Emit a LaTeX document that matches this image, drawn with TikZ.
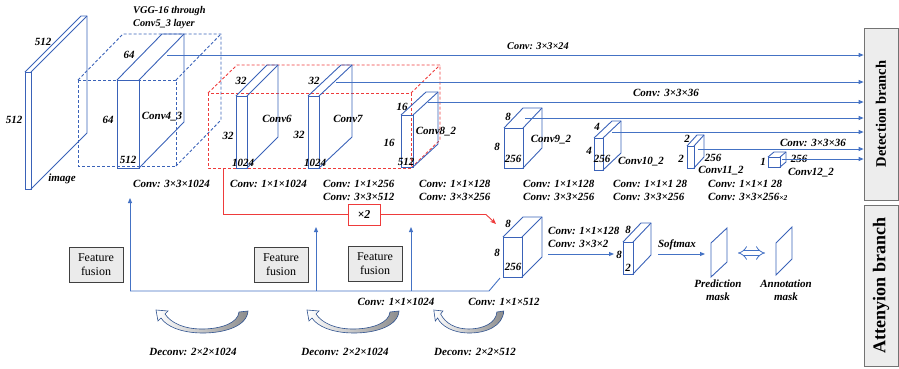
\documentclass[tikz,border=0pt]{standalone}
\usepackage{fontspec}
\setmainfont{Liberation Serif}
\usetikzlibrary{arrows.meta}
\definecolor{netblue}{HTML}{4472C4}
\definecolor{cubeblue}{HTML}{3A62B8}
\definecolor{grpred}{HTML}{EE3B3B}
\definecolor{outlineblue}{HTML}{2F528F}

% cuboid: name, x, y (front top-left), width, height, depth dx, depth dy
\newcommand\cuboid[8][]{%
  \draw[cube,#1] (#3,#4) rectangle ++(#5,#6);
  \draw[cube,#1] (#3,#4) -- ++(#7,-#8) -- ++(#5,0) -- ++(0,#6) -- ++(-#7,#8);
  \draw[cube,#1] (#3+#5,#4) -- ++(#7,-#8);
  \coordinate (#2) at (#3,#4);}

\begin{document}
\begin{tikzpicture}[x=1pt,y=-1pt,
  cube/.style={draw=cubeblue, line width=0.9pt},
  vggdash/.style={draw=cubeblue, dashed, dash pattern=on 3pt off 2pt},
  reddash/.style={draw=grpred, dashed, dash pattern=on 3pt off 2pt},
  lbl/.style={font=\bfseries\itshape\fontsize{11}{13}\selectfont, inner sep=0pt},
  lblleft/.style={lbl, align=left, anchor=west},
  feed/.style={draw=netblue, line width=0.9pt, -{Triangle[length=5pt,width=4pt]}},
  link/.style={draw=netblue, line width=0.9pt},
  fusion/.style={draw=black!75, fill=black!8, line width=0.8pt, minimum width=54pt,
    minimum height=35pt, align=center, inner sep=1pt, font=\fontsize{12}{14}\selectfont},
  branchbox/.style={draw=black!55, fill=black!7, line width=0.7pt, minimum width=34pt,
    inner sep=0pt},
  bend arrow/.pic={
    \draw[outlineblue, line width=0.6pt, left color=white, right color=black!45]
      (47,-1) .. controls (46,14) and (24,21) .. (2,21)
      .. controls (-20,21) and (-35,14) .. (-40,6)
      -- (-43,9) -- (-45,-2) -- (-33,-1) -- (-36,2)
      .. controls (-30,11) and (-17,17) .. (1,17)
      .. controls (20,17) and (37,11) .. (38,0) -- cycle;
  }]
\useasboundingbox (0,0) rectangle (899,368);

% ---------------- branch boxes ----------------
\node[branchbox, minimum height=172pt, font=\bfseries\fontsize{14.5}{16}\selectfont] (det) at (881,114) {\rotatebox{90}{Detection branch}};
\node[branchbox, minimum height=161pt, font=\bfseries\fontsize{18}{20}\selectfont] (att) at (881,285.5) {\rotatebox{90}{Attenyion branch}};

% ---------------- input image ----------------
\cuboid{img}{25}{72}{6}{117}{56}{56}
\node[lbl] at (43,42) {512};
\node[lbl] at (14,120) {512};
\node[lbl] at (62,179) {image};

% ---------------- VGG-16 block ----------------
\cuboid[vggdash]{vgg}{78}{80}{98}{86}{45}{46}
\cuboid{c43}{117}{80}{22}{88}{45}{46}
\node[lbl, align=left, anchor=west, font=\bfseries\itshape\fontsize{10.3}{13}\selectfont] at (133,17.5) {VGG-16 through\\Conv5\_3 layer};
\node[lbl] at (129,55) {64};
\node[lbl] at (108,120) {64};
\node[lbl] at (128,160) {512};
\node[lbl] at (162,117) {Conv4\_3};

% ---------------- repeated group ----------------
\cuboid[reddash]{grp}{208}{93}{203}{75}{29}{28}
\cuboid{c6}{236}{96}{11}{72}{31}{31}
\cuboid{c7}{308}{96}{11}{72}{33}{31}
\cuboid{c82}{401}{115}{12}{52}{25}{23}
\node[lbl] at (241,81) {32};
\node[lbl] at (228,136) {32};
\node[lbl] at (243,163) {1024};
\node[lbl] at (277,119) {Conv6};
\node[lbl] at (314,81) {32};
\node[lbl] at (299,135) {32};
\node[lbl] at (315,163) {1024};
\node[lbl] at (348,119) {Conv7};
\node[lbl] at (402,107) {16};
\node[lbl] at (389,143) {16};
\node[lbl] at (406,162) {512};
\node[lbl] at (436,132) {Conv8\_2};

% ---------------- extra feature layers ----------------
\cuboid{c92}{504}{128}{19}{40}{19}{20}
\cuboid{c102}{594}{138}{9}{32}{18}{17}
\cuboid{c112}{687}{146}{7}{22}{10}{11}
\cuboid{c122}{768}{157}{12}{10}{6}{5}
\node[lbl] at (508,117) {8};
\node[lbl] at (497,147) {8};
\node[lbl] at (513,159) {256};
\node[lbl] at (551,140) {Conv9\_2};
\node[lbl] at (597,127) {4};
\node[lbl] at (589,151) {4};
\node[lbl] at (602,159) {256};
\node[lbl] at (641,162) {Conv10\_2};
\node[lbl] at (687,139) {2};
\node[lbl] at (681,159) {2};
\node[lbl] at (713,158) {256};
\node[lbl] at (721,171) {Conv11\_2};
\node[lbl] at (763,162) {1};
\node[lbl] at (799,159) {256};
\node[lbl] at (811,173) {Conv12\_2};

% ---------------- detection feeds ----------------
\coordinate (s1) at (167,55);
\coordinate (s2) at (336,82);
\coordinate (s3) at (428,102);
\coordinate (s4) at (525,118);
\coordinate (s5) at (612,132);
\coordinate (s6) at (698,149);
\coordinate (s7) at (782,159);
\foreach \s in {s1,s2,s3,s4,s5,s6,s7}
  \draw[feed] (\s) -- (\s -| det.west);
\node[lbl, font=\bfseries\itshape\fontsize{10.3}{12}\selectfont] at (538,46) {Conv: 3×3×24};
\node[lbl] at (666,93) {Conv: 3×3×36};
\node[lbl] at (813,143) {Conv: 3×3×36};

% ---------------- layer settings ----------------
\node[lblleft] at (133,184) {Conv: 3×3×1024};
\node[lblleft] at (230,184) {Conv: 1×1×1024};
\node[lblleft] at (323,190.5) {Conv: 1×1×256\\Conv: 3×3×512};
\node[lblleft] at (419,190.5) {Conv: 1×1×128\\Conv: 3×3×256};
\node[lblleft] at (523,190.5) {Conv: 1×1×128\\Conv: 3×3×256};
\node[lblleft] at (613,190.5) {Conv: 1×1×1 28\\Conv: 3×3×256};
\node[lblleft] at (708,190.5) {Conv: 1×1×1 28\\Conv: 3×3×256{\fontsize{7.5}{9}\selectfont ×2}};

% ---------------- attention branch ----------------
\cuboid{a1}{503}{237}{19}{40}{20}{20}
\cuboid{a2}{623}{242}{10}{32}{18}{19}
\node[lbl] at (508,224) {8};
\node[lbl] at (497,253) {8};
\node[lbl] at (513,267) {256};
\node[lbl] at (628,230) {8};
\node[lbl] at (619,255) {8};
\node[lbl] at (628,268) {2};

\node[draw=grpred, line width=0.9pt, minimum width=32pt, minimum height=21pt, inner sep=0pt,
  font=\bfseries\itshape\fontsize{12}{14}\selectfont] (rep) at (364,214.5) {×2};
\coordinate (grpout) at (223,168);
\coordinate (attin) at (496,224);
\draw[grpred, line width=0.9pt] (grpout) -- (grpout |- rep.west) -- (rep.west);
\draw[grpred, line width=0.9pt, -{Stealth[length=6pt,width=5pt]}] (rep.east) -- (486,214.5) -- (attin);

\coordinate (a1out) at (548,254);
\coordinate (a2in) at (614,254);
\coordinate (a2out) at (658,254);
\coordinate (pmin) at (705,254);
\draw[feed] (a1out) -- (a2in);
\node[lbl, align=left, anchor=west] at (548,237) {Conv: 1×1×128\\Conv: 3×3×2};
\draw[feed] (a2out) -- (pmin);
\node[lbl] at (677,245) {Softmax};

\draw[cube] (711,243) -- (727,228) -- (727,262) -- (711,277) -- cycle;
\draw[cube] (776,243) -- (792,227) -- (792,259) -- (776,275) -- cycle;
\coordinate (pmout) at (738,253);
\coordinate (amin) at (765,253);
\draw[netblue, line width=0.8pt, double, double distance=4pt, {Implies}-{Implies}] (pmout) -- (amin);
\node[lbl, align=center] at (718,290.5) {Prediction\\mask};
\node[lbl, align=center] at (786,290.5) {Annotation\\mask};

% ---------------- fusion paths ----------------
\coordinate (a1base) at (500,278);
\coordinate (bend) at (489,291);
\coordinate (f1) at (130,291);
\coordinate (f2) at (316,291);
\coordinate (f3) at (411,291);
\draw[link] (a1base) -- (bend) -- (f1);
\draw[feed] (f1) -- (130,198);
\draw[feed] (f2) -- (316,227);
\draw[feed] (f3) -- (411,227);
\node[lbl] at (396,302) {Conv: 1×1×1024};
\node[lbl] at (504,302) {Conv: 1×1×512};

\node[fusion] (ff1) at (96,264.5) {Feature\\fusion};
\node[fusion] (ff2) at (281,264.5) {Feature\\fusion};
\node[fusion] (ff3) at (375,264) {Feature\\fusion};

% ---------------- deconvolution arrows ----------------
\pic at (201,312) {bend arrow};
\pic at (352,312) {bend arrow};
\pic[xscale=0.76] at (468,312) {bend arrow};
\node[lbl] at (193,352) {Deconv: 2×2×1024};
\node[lbl] at (345,352) {Deconv: 2×2×1024};
\node[lbl] at (475,352) {Deconv: 2×2×512};
\end{tikzpicture}
\end{document}
